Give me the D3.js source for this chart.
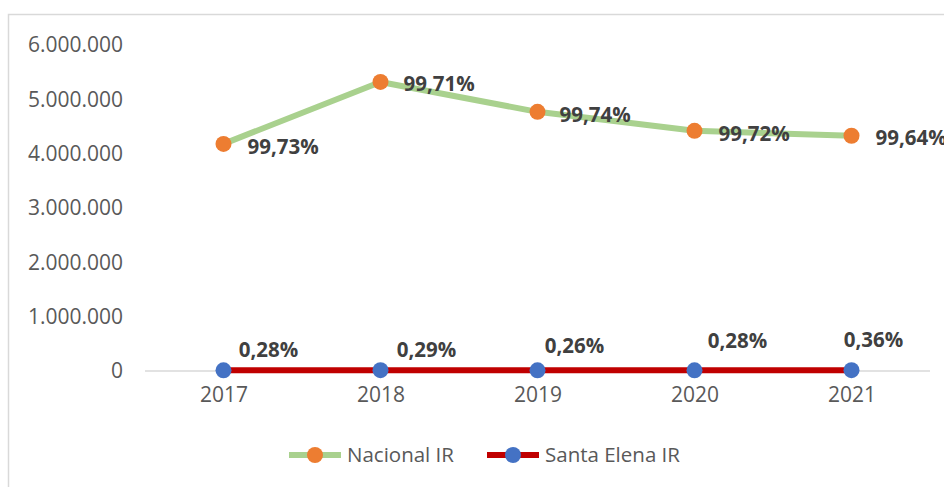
<!DOCTYPE html>
<html lang="es">
<head>
  <meta charset="UTF-8">
  <title>Nacional IR vs Santa Elena IR</title>
  <script src="https://d3js.org/d3.v7.min.js"></script>
  <style>
    body { margin: 0; background: #fff; }
    svg text { font-family: "Open Sans", sans-serif; }
  </style>
</head>
<body>
  <div class="chartContainer"></div>
  <script>
    // datos
    const years = ["2017", "2018", "2019", "2020", "2021"]
    const nacional = [4180000, 5320000, 4770000, 4420000, 4330000]
    const santaElena = [11700, 15500, 12400, 12400, 15700]
    const nacionalPct = [99.73, 99.71, 99.74, 99.72, 99.64]
    const santaElenaPct = [0.28, 0.29, 0.26, 0.28, 0.36]
    const yTicks = [0, 1000000, 2000000, 3000000, 4000000, 5000000, 6000000]
    const seriesNames = ["Nacional IR", "Santa Elena IR"]

    // desplazamiento de etiquetas (colocadas a mano en el original)
    const nacLabelDx = [24, 23, 22, 24, 24]
    const nacLabelDy = [3, 2, 3, 3, 2]
    const seLabelDx = [45, 46, 37, 43, 22]
    const seLabelDy = [-21, -20, -25, -30, -30]

    const W = 944, H = 487
    const svg = d3.select('.chartContainer')
      .append('svg')
      .attr('width', W)
      .attr('height', H)

    // borde del gráfico
    svg.append('rect')
      .attr('x', 8.5).attr('y', 14.5)
      .attr('width', 1000).attr('height', 600)
      .attr('fill', 'none')
      .attr('stroke', '#d9d9d9')
      .attr('stroke-width', 1.5)

    const x = d3.scalePoint().domain(years).range([145, 930]).padding(0.5)
    const y = d3.scaleLinear().domain([0, 6000000]).range([371, 45])

    const es = d3.formatLocale({ decimal: ",", thousands: ".", grouping: [3], currency: ["", ""] })
    const fmtNum = es.format(",")
    const fmtPct = v => es.format(".2f")(v) + "%"

    // eje Y (solo etiquetas)
    const yAxis = svg.append('g')
      .attr('transform', 'translate(123,0)')
      .call(d3.axisLeft(y).tickValues(yTicks).tickFormat(fmtNum).tickSize(0).tickPadding(0))
    yAxis.select('.domain').remove()
    yAxis.selectAll('text')
      .attr('fill', '#595959')
      .style('font-size', '21px')

    // eje X
    const xAxis = svg.append('g')
      .attr('transform', 'translate(0,371)')
      .call(d3.axisBottom(x).tickSize(0).tickPadding(16))
    xAxis.select('.domain')
      .attr('stroke', '#d9d9d9')
      .attr('stroke-width', 1.5)
      .attr('d', 'M145,0H930')
    xAxis.selectAll('text')
      .attr('fill', '#595959')
      .style('font-size', '21px')

    const series = [
      { name: seriesNames[0], values: nacional, pct: nacionalPct, line: '#a9d18e', dot: '#ed7d31', width: 6, dx: nacLabelDx, dy: nacLabelDy },
      { name: seriesNames[1], values: santaElena, pct: santaElenaPct, line: '#c00000', dot: '#4472c4', width: 6, dx: seLabelDx, dy: seLabelDy }
    ]

    const line = d3.line()
      .x((d, i) => x(years[i]))
      .y(d => y(d))

    series.forEach(s => {
      svg.append('path')
        .datum(s.values)
        .attr('d', line)
        .attr('fill', 'none')
        .attr('stroke', s.line)
        .attr('stroke-width', s.width)
        .attr('stroke-linejoin', 'round')

      svg.selectAll(null)
        .data(s.values)
        .enter()
        .append('circle')
        .attr('cx', (d, i) => x(years[i]))
        .attr('cy', d => y(d))
        .attr('r', 8)
        .attr('fill', s.dot)

      svg.selectAll(null)
        .data(s.values)
        .enter()
        .append('text')
        .attr('x', (d, i) => x(years[i]) + s.dx[i])
        .attr('y', (d, i) => y(d) + s.dy[i])
        .attr('dy', '0.35em')
        .attr('text-anchor', s === series[0] ? 'start' : 'middle')
        .attr('fill', '#404040')
        .style('font-size', '20.5px')
        .style('font-weight', 'bold')
        .text((d, i) => fmtPct(s.pct[i]))
    })

    // leyenda
    const legendX = [289, 487]
    const legend = svg.selectAll('.legend')
      .data(series)
      .enter()
      .append('g')
      .attr('class', 'legend')
      .attr('transform', (d, i) => `translate(${legendX[i]},455)`)
    legend.append('line')
      .attr('x1', 0).attr('x2', 52)
      .attr('stroke', d => d.line)
      .attr('stroke-width', 6)
    legend.append('circle')
      .attr('cx', 26).attr('r', 8)
      .attr('fill', d => d.dot)
    legend.append('text')
      .attr('x', 58)
      .attr('dy', '0.35em')
      .attr('fill', '#595959')
      .style('font-size', '20.5px')
      .text(d => d.name)
  </script>
</body>
</html>
